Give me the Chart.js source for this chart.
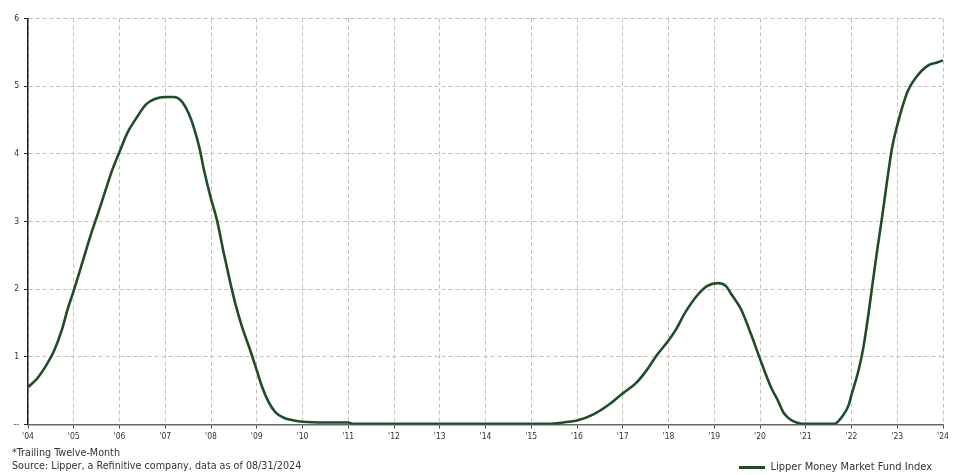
<!DOCTYPE html>
<html>
<head>
<meta charset="utf-8">
<script src="https://cdn.jsdelivr.net/npm/chart.js@4/dist/chart.umd.min.js"></script>
<style>
  body { margin: 0; background: #fff; }
  #wrap { position: relative; width: 955px; height: 475px; overflow: hidden; }
  .note { position: absolute; left: 12px; font: 10.7px "DejaVu Sans Condensed", "DejaVu Sans", sans-serif; color: #333; white-space: nowrap; }
</style>
</head>
<body>
<div id="wrap">
  <canvas id="myChart" width="955" height="475"></canvas>
  <div class="note" style="top:446px">*Trailing Twelve-Month</div>
  <div class="note" style="top:459px">Source: Lipper, a Refinitive company, data as of 08/31/2024</div>
</div>
<script>
// decimal year of each reading
const dates = [
  2004.00, 2004.20, 2004.42, 2004.57, 2004.75, 2004.86, 2005.00, 2005.19, 2005.37, 2005.53,
  2005.66, 2005.84, 2006.00, 2006.18, 2006.36, 2006.58, 2006.77, 2007.00, 2007.19, 2007.34,
  2007.51, 2007.62, 2007.75, 2007.84, 2007.99, 2008.13, 2008.28, 2008.42, 2008.53, 2008.68,
  2008.86, 2009.00, 2009.12, 2009.26, 2009.41, 2009.59, 2009.81, 2010.00, 2010.50, 2011.00,
  2011.10, 2012.00, 2013.00, 2014.00, 2015.00, 2015.45, 2015.60, 2015.80, 2016.00, 2016.36,
  2016.73, 2017.00, 2017.30, 2017.52, 2017.74, 2018.00, 2018.15, 2018.37, 2018.63, 2018.85,
  2019.07, 2019.25, 2019.36, 2019.58, 2019.80, 2020.00, 2020.24, 2020.38, 2020.52, 2020.67,
  2020.85, 2021.00, 2021.62, 2021.80, 2021.94, 2022.00, 2022.15, 2022.26, 2022.37, 2022.45,
  2022.56, 2022.67, 2022.78, 2022.89, 2023.00, 2023.11, 2023.23, 2023.40, 2023.66, 2023.87,
  2024.00
];
// Lipper Money Market Fund Index, trailing twelve-month yield (%)
const yields = [
  0.55, 0.68, 0.90, 1.09, 1.42, 1.69, 1.98, 2.40, 2.80, 3.12,
  3.39, 3.76, 4.03, 4.32, 4.52, 4.73, 4.81, 4.84, 4.84, 4.79,
  4.60, 4.40, 4.08, 3.78, 3.36, 3.02, 2.53, 2.10, 1.79, 1.44,
  1.09, 0.80, 0.55, 0.33, 0.18, 0.10, 0.06, 0.04, 0.03, 0.03,
  0.01, 0.01, 0.01, 0.01, 0.01, 0.01, 0.02, 0.04, 0.06, 0.15,
  0.31, 0.46, 0.62, 0.80, 1.02, 1.24, 1.39, 1.66, 1.91, 2.05,
  2.09, 2.05, 1.94, 1.71, 1.34, 0.97, 0.55, 0.37, 0.17, 0.07,
  0.02, 0.01, 0.01, 0.12, 0.29, 0.44, 0.79, 1.14, 1.63, 2.03,
  2.57, 3.07, 3.61, 4.10, 4.42, 4.69, 4.93, 5.12, 5.30, 5.35,
  5.38
];
const yearTicks = [2004, 2005, 2006, 2007, 2008, 2009, 2010, 2011, 2012, 2013, 2014,
  2015, 2016, 2017, 2018, 2019, 2020, 2021, 2022, 2023, 2024];
const yTicks = [0, 1, 2, 3, 4, 5, 6];

const FONT = '"DejaVu Sans Condensed", "DejaVu Sans", sans-serif';
const GRID = '#c9beb5';

const points = dates.map((d, i) => ({ x: d, y: yields[i] }));

const ctx = document.getElementById('myChart').getContext('2d');
new Chart(ctx, {
  type: 'line',
  data: {
    datasets: [{
      label: 'Lipper Money Market Fund Index',
      data: points,
      borderColor: '#1f4d2a',
      backgroundColor: '#1f4d2a',
      borderWidth: 2.6,
      pointRadius: 0,
      cubicInterpolationMode: 'monotone',
      fill: false
    }]
  },
  options: {
    responsive: false,
    animation: false,
    // negative bottom padding lets the legend row sit lower, level with the source note
    layout: { padding: { top: 18.5, right: 12, left: 8.5, bottom: -8 } },
    scales: {
      x: {
        type: 'linear',
        min: 2004,
        max: 2024,
        afterBuildTicks: s => { s.ticks = yearTicks.map(v => ({ value: v })); },
        afterFit: s => { s.height = 26.5; },
        grid: { color: GRID, tickColor: '#444', tickLength: 4, lineWidth: 1 },
        border: { color: '#666', width: 1.5, dash: [4, 3] },
        ticks: {
          color: '#333',
          font: { family: FONT, size: 8.5 },
          padding: 3,
          maxRotation: 0,
          callback: v => "'" + String(v).slice(2)
        }
      },
      y: {
        min: 0,
        max: 6,
        afterBuildTicks: s => { s.ticks = yTicks.map(v => ({ value: v })); },
        grid: { color: GRID, tickColor: '#222', tickLength: 4, lineWidth: 1 },
        border: { color: '#222', width: 1.5, dash: [4, 3] },
        ticks: {
          color: '#333',
          font: { family: FONT, size: 8.5 },
          padding: 5,
          callback: v => v === 0 ? '--' : v
        }
      }
    },
    plugins: {
      tooltip: { enabled: false },
      legend: {
        position: 'bottom',
        align: 'end',
        labels: {
          color: '#333',
          font: { family: FONT, size: 11 },
          boxWidth: 26,
          boxHeight: 3,
          padding: 11,
          generateLabels: chart => {
            const items = Chart.defaults.plugins.legend.labels.generateLabels(chart);
            items.forEach(it => { it.lineWidth = 0; });
            return items;
          }
        }
      }
    }
  }
});
</script>
</body>
</html>
